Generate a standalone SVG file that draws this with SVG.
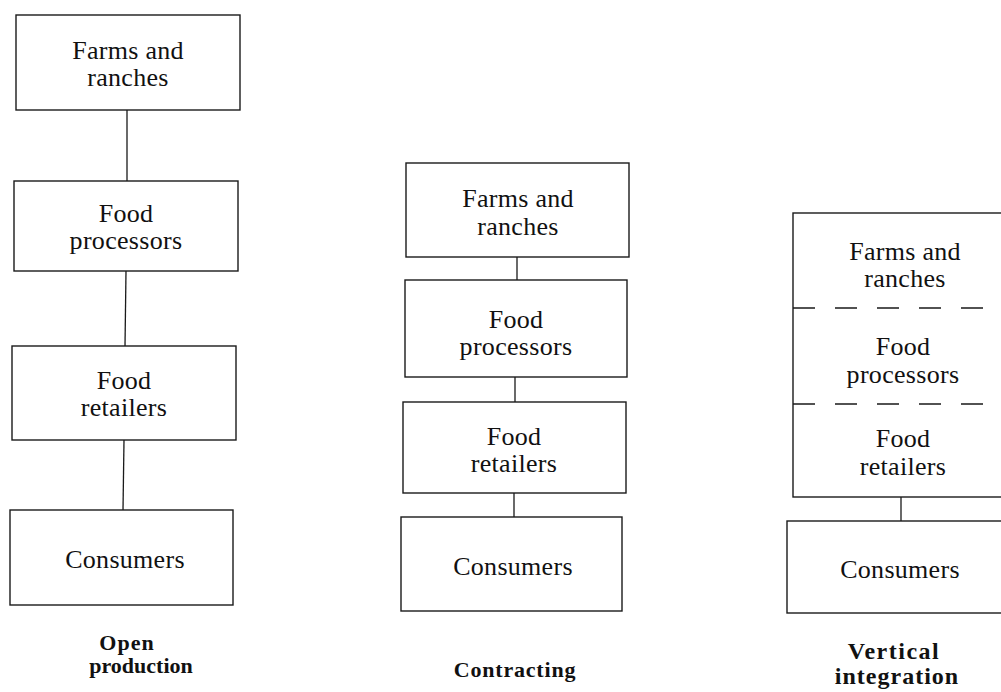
<svg xmlns="http://www.w3.org/2000/svg" width="1001" height="692" viewBox="0 0 1001 692">
<style>
.box{fill:#fff;stroke:#1a1a1a;stroke-width:1.4}
.t{font-family:"Liberation Serif",serif;font-size:26px;letter-spacing:0.3px;fill:#111;text-anchor:middle}
.lbl{font-family:"Liberation Serif",serif;font-size:22px;font-weight:bold;fill:#111;text-anchor:middle}
.lbl3{font-family:"Liberation Serif",serif;font-size:24px;font-weight:bold;fill:#111;text-anchor:middle}
.c{stroke:#1a1a1a;stroke-width:1.3;fill:none}
.dash{stroke:#1a1a1a;stroke-width:1.4;stroke-dasharray:22 20;fill:none}
</style>
<rect width="1001" height="692" fill="#fff"/>
<g id="connectors">
<line class="c" x1="127" y1="110" x2="127" y2="181"/>
<line class="c" x1="126" y1="271" x2="125" y2="346"/>
<line class="c" x1="124" y1="440" x2="123" y2="510"/>
<line class="c" x1="517" y1="257" x2="517" y2="280"/>
<line class="c" x1="515" y1="377" x2="515" y2="402"/>
<line class="c" x1="514" y1="493" x2="514" y2="517"/>
<line class="c" x1="901" y1="497" x2="901" y2="521"/>
</g>
<g id="open-farms"><rect class="box" x="16" y="15" width="224" height="95"/><text class="t" x="128" y="59">Farms and</text><text class="t" x="128" y="86">ranches</text></g>
<g id="open-processors"><rect class="box" x="14" y="181" width="224" height="90"/><text class="t" x="126" y="222">Food</text><text class="t" x="126" y="249">processors</text></g>
<g id="open-retailers"><rect class="box" x="12" y="346" width="224" height="94"/><text class="t" x="124" y="389">Food</text><text class="t" x="124" y="416">retailers</text></g>
<g id="open-consumers"><rect class="box" x="10" y="510" width="223" height="95"/><text class="t" x="125" y="568">Consumers</text></g>
<g id="open-label"><text class="lbl" x="127" y="650" letter-spacing="1">Open</text><text class="lbl" x="141" y="673">production</text></g>

<g id="contract-farms"><rect class="box" x="406" y="163" width="223" height="94"/><text class="t" x="518" y="207">Farms and</text><text class="t" x="518" y="235">ranches</text></g>
<g id="contract-processors"><rect class="box" x="405" y="280" width="222" height="97"/><text class="t" x="516" y="328">Food</text><text class="t" x="516" y="355">processors</text></g>
<g id="contract-retailers"><rect class="box" x="403" y="402" width="223" height="91"/><text class="t" x="514" y="445">Food</text><text class="t" x="514" y="472">retailers</text></g>
<g id="contract-consumers"><rect class="box" x="401" y="517" width="221" height="94"/><text class="t" x="513" y="575">Consumers</text></g>
<g id="contract-label"><text class="lbl" x="515" y="677" letter-spacing="0.8">Contracting</text></g>

<g id="vertical-integrated"><rect class="box" x="793" y="213" width="220" height="284"/>
<line class="dash" x1="793" y1="308" x2="1001" y2="308"/>
<line class="dash" x1="793" y1="404" x2="1001" y2="404"/>
<text class="t" x="905" y="260">Farms and</text><text class="t" x="905" y="287">ranches</text>
<text class="t" x="903" y="355">Food</text><text class="t" x="903" y="383">processors</text>
<text class="t" x="903" y="447">Food</text><text class="t" x="903" y="475">retailers</text></g>
<g id="vertical-consumers"><rect class="box" x="787" y="521" width="226" height="92"/><text class="t" x="900" y="578">Consumers</text></g>
<g id="vertical-label"><text class="lbl3" x="894" y="659" letter-spacing="1.5">Vertical</text><text class="lbl3" x="897" y="684" letter-spacing="1">integration</text></g>
</svg>
